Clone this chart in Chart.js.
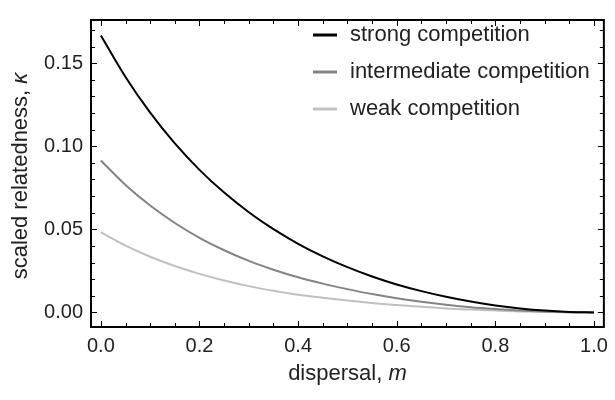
<!DOCTYPE html>
<html>
<head>
<meta charset="utf-8">
<script src="https://cdn.jsdelivr.net/npm/chart.js@4.4.1/dist/chart.umd.min.js"></script>
<style>
  html, body { margin: 0; padding: 0; background: #fff; }
</style>
</head>
<body>
<canvas id="chart" width="615" height="400"></canvas>
<script>
// dados
const dispersal = [0, 0.05, 0.1, 0.15, 0.2, 0.25, 0.3, 0.35, 0.4, 0.45, 0.5,
                   0.55, 0.6, 0.65, 0.7, 0.75, 0.8, 0.85, 0.9, 0.95, 1.0];
const strongComp = [0.1667, 0.1417, 0.1202, 0.1017, 0.0858, 0.0721, 0.0603, 0.0501, 0.0413, 0.0337, 0.0272,
                    0.0216, 0.0168, 0.0128, 0.0094, 0.0065, 0.0042, 0.0024, 0.0011, 0.0003, 0];
const intermediateComp = [0.0914, 0.0767, 0.0643, 0.0538, 0.0449, 0.0374, 0.0310, 0.0257, 0.0211, 0.0173, 0.0140,
                          0.0110, 0.0085, 0.0064, 0.0046, 0.0031, 0.0020, 0.0011, 0.0005, 0.0001, 0];
const weakComp = [0.0481, 0.0402, 0.0335, 0.0279, 0.0232, 0.0192, 0.0158, 0.0130, 0.0106, 0.0088, 0.0072,
                  0.0057, 0.0044, 0.0034, 0.0024, 0.0017, 0.0011, 0.0006, 0.0003, 0.0001, 0];

const seriesNames = ["strong competition", "intermediate competition", "weak competition"];
const seriesColors = ["#000000", "#848484", "#c0c0c0"];

const xTicks = [0, 0.2, 0.4, 0.6, 0.8, 1.0];
const xTickLabels = ["0.0", "0.2", "0.4", "0.6", "0.8", "1.0"];
const yTicks = [0, 0.05, 0.10, 0.15];
const yTickLabels = ["0.00", "0.05", "0.10", "0.15"];

const FONT = "'Liberation Sans', Arial, sans-serif";
const TITLE_SIZE = 22;

// ticks menores
const xMinor = [];
for (let i = 1; i < 20; i++) if (i % 4 !== 0) xMinor.push(i * 0.05);
const yMinor = [];
for (let i = 1; i <= 17; i++) if (i % 5 !== 0) yMinor.push(i * 0.01);

function toPoints(ys) {
    return ys.map((v, i) => ({ x: dispersal[i], y: v }));
}

// moldura com ticks para dentro, títulos dos eixos e legenda
const framePlugin = {
    id: "frame",
    afterDraw(chart) {
        const { ctx, chartArea: a, scales: { x, y } } = chart;
        ctx.save();
        ctx.strokeStyle = "#000";
        ctx.lineWidth = 1;
        const seg = (x1, y1, x2, y2) => {
            ctx.beginPath(); ctx.moveTo(x1, y1); ctx.lineTo(x2, y2); ctx.stroke();
        };
        const xt = (v, len) => {
            const p = Math.round(x.getPixelForValue(v)) + 0.5;
            seg(p, a.bottom, p, a.bottom - len);
            seg(p, a.top, p, a.top + len);
        };
        const yt = (v, len) => {
            const p = Math.round(y.getPixelForValue(v)) + 0.5;
            seg(a.left, p, a.left + len, p);
            seg(a.right, p, a.right - len, p);
        };
        xTicks.forEach(v => xt(v, 6));
        xMinor.forEach(v => xt(v, 4));
        yTicks.forEach(v => yt(v, 6));
        yMinor.forEach(v => yt(v, 4));
        ctx.lineWidth = 2;
        ctx.strokeRect(a.left, a.top, a.right - a.left, a.bottom - a.top);

        // títulos dos eixos (parte em itálico)
        ctx.fillStyle = "#222";
        ctx.textBaseline = "middle";
        const drawMixed = (plain, ital, cx, cy) => {
            ctx.font = TITLE_SIZE + "px " + FONT;
            const w1 = ctx.measureText(plain).width;
            ctx.font = "italic " + TITLE_SIZE + "px " + FONT;
            const w2 = ctx.measureText(ital).width;
            const start = cx - (w1 + w2) / 2;
            ctx.textAlign = "left";
            ctx.font = TITLE_SIZE + "px " + FONT;
            ctx.fillText(plain, start, cy);
            ctx.font = "italic " + TITLE_SIZE + "px " + FONT;
            ctx.fillText(ital, start + w1, cy);
        };
        drawMixed("dispersal, ", "m", (a.left + a.right) / 2, 374);
        ctx.save();
        ctx.translate(21, 176);
        ctx.rotate(-Math.PI / 2);
        drawMixed("scaled relatedness, ", "\u03BA", 0, 0);
        ctx.restore();

        // legenda
        ctx.font = TITLE_SIZE + "px " + FONT;
        ctx.textAlign = "left";
        chart.data.datasets.forEach((ds, i) => {
            const ly = 35 + i * 37;
            ctx.strokeStyle = ds.borderColor;
            ctx.lineWidth = 3;
            seg(313, ly, 337, ly);
            ctx.fillStyle = "#222";
            ctx.fillText(ds.label, 350, ly);
        });
        ctx.restore();
    }
};

new Chart(document.getElementById("chart"), {
    type: "line",
    data: {
        datasets: [
            { label: seriesNames[0], data: toPoints(strongComp), borderColor: seriesColors[0] },
            { label: seriesNames[1], data: toPoints(intermediateComp), borderColor: seriesColors[1] },
            { label: seriesNames[2], data: toPoints(weakComp), borderColor: seriesColors[2] }
        ].map(ds => Object.assign(ds, {
            borderWidth: 2,
            pointRadius: 0,
            fill: false,
            cubicInterpolationMode: "monotone"
        }))
    },
    options: {
        responsive: false,
        animation: false,
        devicePixelRatio: 1,
        layout: { padding: { top: 7, right: 5, left: 0, bottom: 0 } },
        plugins: {
            legend: { display: false },
            tooltip: { enabled: false }
        },
        scales: {
            x: {
                type: "linear",
                min: -0.02,
                max: 1.02,
                grid: { display: false, drawTicks: false },
                border: { display: false },
                afterBuildTicks: s => { s.ticks = xTicks.map(v => ({ value: v })); },
                afterFit: s => { s.height = 73; },
                ticks: {
                    padding: 7,
                    color: "#222",
                    font: { family: FONT, size: 20 },
                    maxRotation: 0,
                    callback: v => xTickLabels[xTicks.findIndex(t => Math.abs(t - v) < 1e-9)]
                }
            },
            y: {
                min: -0.0088,
                max: 0.176,
                grid: { display: false, drawTicks: false },
                border: { display: false },
                afterBuildTicks: s => { s.ticks = yTicks.map(v => ({ value: v })); },
                afterFit: s => { s.width = 91; },
                ticks: {
                    padding: 8,
                    color: "#222",
                    font: { family: FONT, size: 20 },
                    callback: v => yTickLabels[yTicks.findIndex(t => Math.abs(t - v) < 1e-9)]
                }
            }
        }
    },
    plugins: [framePlugin]
});
</script>
</body>
</html>
